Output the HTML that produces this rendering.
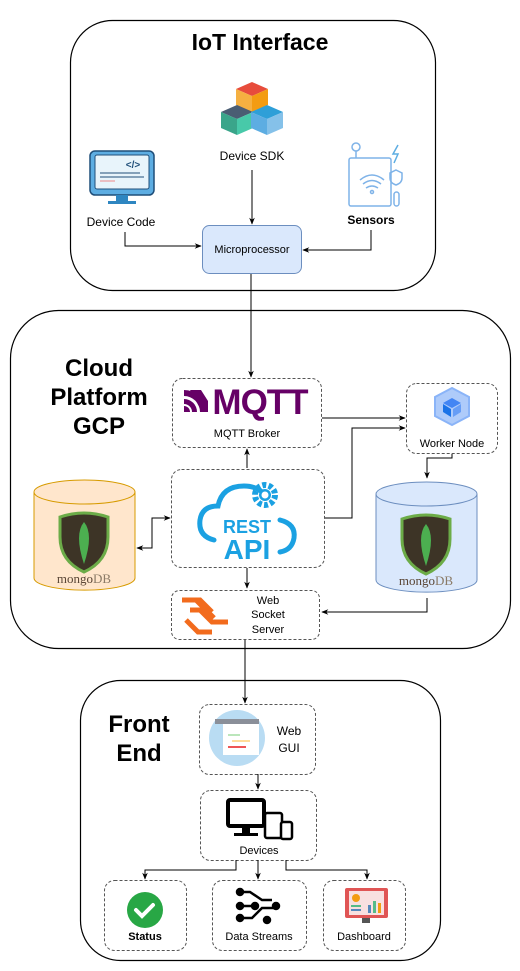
<!DOCTYPE html>
<html><head><meta charset="utf-8"><style>
html,body{margin:0;padding:0;background:#fff;}
svg{display:block;font-family:"Liberation Sans",Arial,sans-serif;}
</style></head><body>
<svg width="520" height="971" viewBox="0 0 520 971" xmlns="http://www.w3.org/2000/svg">
<defs>
<marker id="a" viewBox="0 0 10 10" refX="9" refY="5" markerWidth="7" markerHeight="7" orient="auto-start-reverse"><path d="M0,1 L10,5 L0,9 L3,5 z" fill="#000"/></marker>
</defs>
<rect x="70.5" y="20.5" width="365" height="270" rx="42" fill="#fff" stroke="#000" stroke-width="1.2"/>
<rect x="10.5" y="310.5" width="500" height="338" rx="48" fill="#fff" stroke="#000" stroke-width="1.2"/>
<rect x="80.5" y="680.5" width="360" height="280" rx="40" fill="#fff" stroke="#000" stroke-width="1.2"/>

<text x="260" y="50" font-size="23" font-weight="bold" text-anchor="middle">IoT Interface</text>

<g>
<polygon points="252,82 268,89 252,96 236,89" fill="#e74c3c"/>
<polygon points="236,89 252,96 252,112 236,105" fill="#f5b041"/>
<polygon points="268,89 252,96 252,112 268,105" fill="#f39c12"/>
<polygon points="237,105 253,112 237,119 221,112" fill="#4a5d73"/>
<polygon points="221,112 237,119 237,135 221,128" fill="#3aa58a"/>
<polygon points="253,112 237,119 237,135 253,128" fill="#48c9a9"/>
<polygon points="267,105 283,112 267,119 251,112" fill="#2e9fd8"/>
<polygon points="251,112 267,119 267,135 251,128" fill="#5dade2"/>
<polygon points="283,112 267,119 267,135 283,128" fill="#85c1e9"/>
</g>
<text x="252" y="160" font-size="12" text-anchor="middle">Device SDK</text>

<g>
<rect x="90" y="151" width="64" height="44" rx="5" fill="#5dade2" stroke="#1f4e79" stroke-width="1.5"/>
<rect x="95" y="155" width="54" height="34" rx="2" fill="#e8f4fb" stroke="#1f4e79" stroke-width="1"/>
<text x="133" y="168" font-size="10" font-weight="bold" text-anchor="middle" fill="#1f4e79">&lt;/&gt;</text>
<line x1="100" y1="173" x2="140" y2="173" stroke="#1f4e79"/>
<line x1="100" y1="177" x2="144" y2="177" stroke="#1f4e79"/>
<line x1="100" y1="181" x2="115" y2="181" stroke="#e88"/>
<rect x="116" y="195" width="12" height="7" fill="#2e86c1"/>
<rect x="108" y="201" width="28" height="3" fill="#2e86c1"/>
</g>
<text x="121" y="226" font-size="12" text-anchor="middle">Device Code</text>

<g fill="none" stroke="#7fb3e8" stroke-width="1.5">
<circle cx="356" cy="147" r="4"/>
<line x1="356" y1="151" x2="356" y2="158"/>
<rect x="349" y="158" width="42" height="48" rx="2"/>
<path d="M360,180 q12,-10 24,0 M363,184 q9,-7 18,0 M366,188 q6,-4 12,0"/>
<circle cx="372" cy="192" r="1.5"/>
<path d="M398,145 l-5,9 h5 l-4,9" stroke="#5dade2"/>
<path d="M396,170 l6,3 v5 q0,5 -6,7 q-6,-2 -6,-7 v-5 z"/>
<rect x="394" y="192" width="5" height="14" rx="2.5"/>
</g>
<text x="371" y="224" font-size="12" font-weight="bold" text-anchor="middle">Sensors</text>

<rect x="202.5" y="225.5" width="99" height="48" rx="7" fill="#dae8fc" stroke="#6c8ebf"/>
<text x="252" y="253" font-size="11" text-anchor="middle">Microprocessor</text>

<g stroke="#000" fill="none" stroke-width="1">
<line x1="252" y1="170" x2="252" y2="224" marker-end="url(#a)"/>
<polyline points="125,232 125,246 201,246" marker-end="url(#a)"/>
<polyline points="371,230 371,250 303,250" marker-end="url(#a)"/>
<line x1="251" y1="274" x2="251" y2="377" marker-end="url(#a)"/>
</g>

<text font-size="24" font-weight="bold" text-anchor="middle"><tspan x="99" y="376">Cloud</tspan><tspan x="99" y="405">Platform</tspan><tspan x="99" y="434">GCP</tspan></text>

<g fill="none" stroke="#555" stroke-dasharray="3,2" stroke-width="1">
<rect x="172.5" y="378.5" width="149" height="69" rx="10"/>
<rect x="406.5" y="383.5" width="91" height="70" rx="10"/>
<rect x="171.5" y="469.5" width="153" height="98" rx="10"/>
<rect x="171.5" y="590.5" width="148" height="49" rx="8"/>
<rect x="199.5" y="704.5" width="116" height="70" rx="10"/>
<rect x="200.5" y="790.5" width="116" height="70" rx="10"/>
<rect x="104.5" y="880.5" width="82" height="70" rx="10"/>
<rect x="212.5" y="880.5" width="94" height="70" rx="10"/>
<rect x="323.5" y="880.5" width="82" height="70" rx="10"/>
</g>

<g fill="#660066">
<path d="M184,390 a22,22 0 0 1 22,22 h-6 a16,16 0 0 0 -16,-16z"/>
<path d="M184,399 a13,13 0 0 1 13,13 h-5 a8,8 0 0 0 -8,-8z"/>
<path d="M184,406 a6,6 0 0 1 6,6 h-6z"/>
<polygon points="190,390 201,390 208,401 208,412 202,412"/>
</g>
<text x="260" y="414" font-size="35" font-weight="bold" fill="#660066" text-anchor="middle" letter-spacing="-1">MQTT</text>
<text x="247" y="437" font-size="11" text-anchor="middle">MQTT Broker</text>

<polygon points="452,388 469,397 469,416 452,425 435,416 435,397" fill="#aecbfa" stroke="#8ab4f8" stroke-width="2"/>
<polygon points="452,398 461,403 452,408 443,403" fill="#4285f4"/>
<polygon points="443,404 451,409 451,417 443,412" fill="#1a73e8"/>
<polygon points="461,404 453,409 453,417 461,412" fill="#669df6"/>
<text x="452" y="447" font-size="11" text-anchor="middle">Worker Node</text>

<g fill="none" stroke="#1ba1e2" stroke-width="5" stroke-linecap="round">
<path d="M214,540 q-16,-4 -14,-20 q2,-14 18,-14 q4,-20 26,-20 q14,0 22,10"/>
<path d="M280,520 q16,4 14,18 q-2,12 -14,14"/>
</g>
<circle cx="265" cy="495" r="10" fill="none" stroke="#1ba1e2" stroke-width="6" stroke-dasharray="4,2.3"/>
<circle cx="265" cy="495" r="6" fill="#1ba1e2"/><circle cx="265" cy="495" r="3.5" fill="#fff"/>
<text x="247" y="533" font-size="18" font-weight="bold" fill="#1ba1e2" text-anchor="middle">REST</text>
<text x="247" y="559" font-size="28" font-weight="bold" fill="#1ba1e2" text-anchor="middle">API</text>

<g>
<path d="M34,492 v86 a50,12 0 0 0 101,0 v-86" fill="#ffe6cc" stroke="#d79b00"/>
<ellipse cx="84.5" cy="492" rx="50.5" ry="12" fill="#ffe6cc" stroke="#d79b00"/>
<path d="M60,517 q24,-8 48,0 v20 q0,24 -24,35 q-24,-11 -24,-35z" fill="#3d3426" stroke="#6cac48" stroke-width="3"/>
<path d="M84,522 q10,12 0,42 q-10,-30 0,-42z" fill="#4caf50"/>
<text x="84" y="583" font-size="13" font-family="Liberation Serif,serif" fill="#5a4636" text-anchor="middle">mongo<tspan fill="#8a7a66">DB</tspan></text>
</g>
<g>
<path d="M376,494 v86 a50,12 0 0 0 101,0 v-86" fill="#dae8fc" stroke="#6c8ebf"/>
<ellipse cx="426.5" cy="494" rx="50.5" ry="12" fill="#dae8fc" stroke="#6c8ebf"/>
<path d="M402,519 q24,-8 48,0 v20 q0,24 -24,35 q-24,-11 -24,-35z" fill="#3d3426" stroke="#6cac48" stroke-width="3"/>
<path d="M426,524 q10,12 0,42 q-10,-30 0,-42z" fill="#4caf50"/>
<text x="426" y="585" font-size="13" font-family="Liberation Serif,serif" fill="#5a4636" text-anchor="middle">mongo<tspan fill="#8a7a66">DB</tspan></text>
</g>

<g fill="none" stroke="#f26b1d" stroke-width="5">
<path d="M182,600 h18 l12,12 M190,610 h10 l12,12 h16 M196,600 l18,18"/>
<path d="M186,620 l12,12 h14"/>
</g>
<text font-size="11" text-anchor="middle"><tspan x="268" y="604">Web</tspan><tspan x="268" y="618">Socket</tspan><tspan x="268" y="633">Server</tspan></text>

<g stroke="#000" fill="none" stroke-width="1">
<line x1="247" y1="468" x2="247" y2="449" marker-end="url(#a)"/>
<line x1="247" y1="568" x2="247" y2="588" marker-end="url(#a)"/>
<line x1="322" y1="418" x2="405" y2="418" marker-end="url(#a)"/>
<polyline points="325,518 352,518 352,428 405,428" marker-end="url(#a)"/>
<polyline points="452,454 452,458 427,458 427,478" marker-end="url(#a)"/>
<polyline points="427,598 427,612 322,612" marker-end="url(#a)"/>
<polyline points="137,548 152,548 152,518 170,518" marker-start="url(#a)" marker-end="url(#a)"/>
<line x1="245" y1="640" x2="245" y2="703" marker-end="url(#a)"/>
<line x1="258" y1="774" x2="258" y2="789" marker-end="url(#a)"/>
<polyline points="236,860 236,870 145,870 145,879" marker-end="url(#a)"/>
<line x1="258" y1="860" x2="258" y2="879" marker-end="url(#a)"/>
<polyline points="286,860 286,870 367,870 367,879" marker-end="url(#a)"/>
</g>

<text font-size="24" font-weight="bold" text-anchor="middle"><tspan x="139" y="732">Front</tspan><tspan x="139" y="761">End</tspan></text>

<circle cx="237" cy="738" r="28" fill="#b9dcf3"/>
<rect x="215" y="719" width="44" height="36" fill="#fff"/>
<rect x="215" y="719" width="44" height="5" fill="#8a8f99"/>
<rect x="215" y="724" width="8" height="31" fill="#b9dcf3"/>
<line x1="228" y1="735" x2="240" y2="735" stroke="#7c7"/>
<line x1="232" y1="741" x2="250" y2="741" stroke="#fb3"/>
<line x1="228" y1="747" x2="246" y2="747" stroke="#e55" stroke-width="2"/>
<text font-size="12" text-anchor="middle"><tspan x="289" y="735">Web</tspan><tspan x="289" y="752">GUI</tspan></text>

<rect x="228" y="800" width="36" height="26" rx="2" fill="none" stroke="#000" stroke-width="4"/>
<rect x="242" y="828" width="8" height="6" fill="#000"/><rect x="234" y="833" width="24" height="3" fill="#000"/>
<rect x="265" y="813" width="17" height="25" rx="2" fill="#fff" stroke="#000" stroke-width="2.5"/>
<rect x="281" y="822" width="11" height="17" rx="2" fill="#fff" stroke="#000" stroke-width="2.5"/>
<text x="259" y="854" font-size="11" text-anchor="middle">Devices</text>

<circle cx="145" cy="910" r="18" fill="#28a745"/>
<path d="M136,910 l6,6 l11,-11" fill="none" stroke="#fff" stroke-width="4" stroke-linecap="round"/>
<text x="145" y="940" font-size="11" font-weight="bold" text-anchor="middle">Status</text>

<g stroke="#000" stroke-width="2.5" fill="#000">
<circle cx="240" cy="892" r="3"/><circle cx="240" cy="906" r="3"/><circle cx="240" cy="918" r="3"/>
<circle cx="276" cy="906" r="3"/><circle cx="267" cy="920" r="3"/><circle cx="255" cy="906" r="3"/>
<path d="M240,892 h10 l12,8 h10 M240,906 h15 M240,918 h12 l10,-10 h12" fill="none"/>
</g>
<text x="259" y="940" font-size="11" text-anchor="middle">Data Streams</text>

<rect x="345" y="888" width="43" height="30" rx="2" fill="#e05555"/>
<rect x="349" y="891" width="35" height="24" fill="#f8e0e0"/>
<circle cx="356" cy="898" r="4" fill="#f39c12"/>
<rect x="351" y="905" width="10" height="2" fill="#5b8"/><rect x="351" y="909" width="10" height="2" fill="#58b"/>
<rect x="368" y="905" width="3" height="8" fill="#58b"/><rect x="373" y="901" width="3" height="12" fill="#5b8"/><rect x="378" y="903" width="3" height="10" fill="#f39c12"/>
<rect x="362" y="918" width="8" height="5" fill="#555"/>
<text x="364" y="940" font-size="11" text-anchor="middle">Dashboard</text>
</svg>
</body></html>
